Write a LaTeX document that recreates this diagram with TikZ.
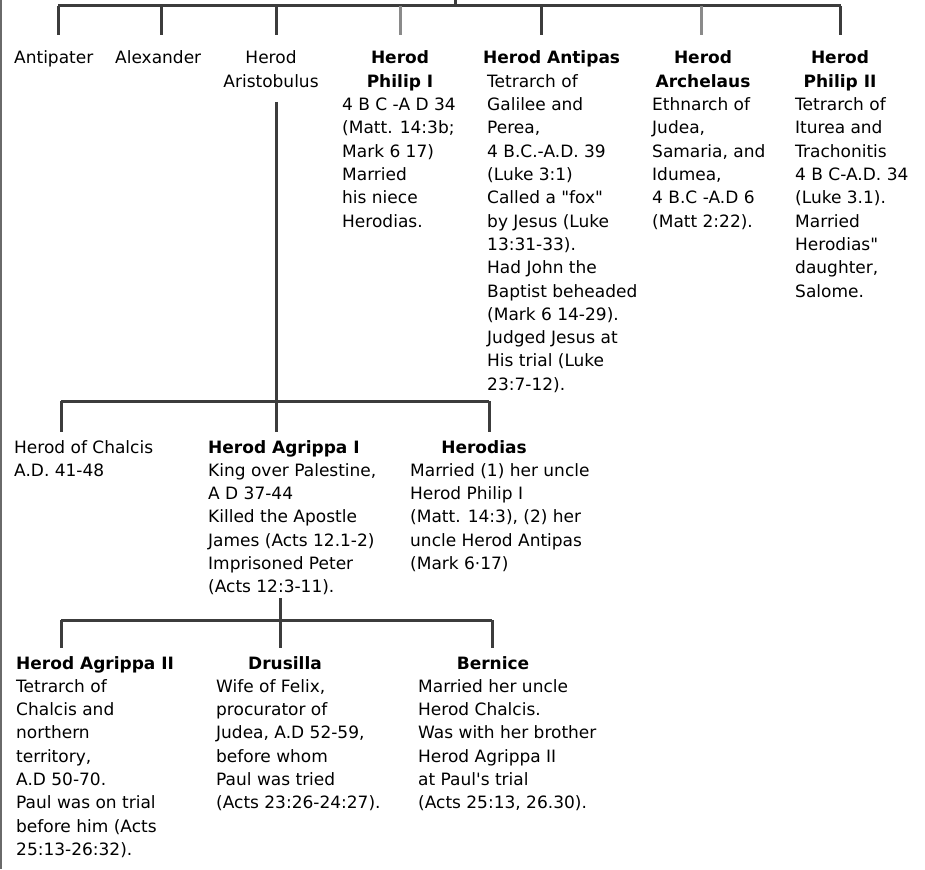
\documentclass[tikz,border=0pt]{standalone}
\usepackage{fontspec}
\setmainfont{DejaVu Sans}[Ligatures=TeXOff]
\definecolor{linegray}{HTML}{3C3C3C}
\definecolor{lightline}{HTML}{8A8A8A}
\definecolor{bordergray}{HTML}{6A6A6A}
\tikzset{
  tree/.style={line width=3pt, draw=linegray},
  treelight/.style={line width=3pt, draw=lightline},
  border/.style={line width=1.5pt, draw=bordergray},
  body/.style={inner sep=0pt, align=left, anchor=base west, font=\fontsize{17}{23.3}\selectfont},
  ttl/.style={inner sep=0pt, align=center, anchor=base, font=\bfseries\fontsize{17}{23.3}\selectfont},
  ttlw/.style={inner sep=0pt, align=left, anchor=base west, font=\bfseries\fontsize{17}{23.3}\selectfont},
  plainc/.style={inner sep=0pt, align=center, anchor=base, font=\fontsize{17}{23.3}\selectfont},
}
% anchors are on the baseline of the LAST line of each node
\begin{document}
\begin{tikzpicture}[x=1pt,y=-1pt]
\useasboundingbox (0,0) rectangle (925,869);
% left border
\coordinate (bordertop) at (1,0);
\coordinate (borderbot) at (1,869);
\draw[border] (bordertop) -- (borderbot);

% ---------- generation 1 ----------
\coordinate (topin) at (455,0);
\coordinate (topjoin) at (455,6);
\coordinate (barL) at (58,6);
\coordinate (barR) at (841,6);
\draw[tree] (topin) -- (topjoin);
\draw[tree] (barL) -- (barR);
\foreach \n/\x in {a/58,b/161,c/276,e/541,g/840}{
  \coordinate (t\n) at (\x,6); \coordinate (d\n) at (\x,35);
  \draw[tree] (t\n) -- (d\n);
}
\foreach \n/\x in {d/400,f/701}{
  \coordinate (t\n) at (\x,6); \coordinate (d\n) at (\x,35);
  \draw[treelight] (t\n) -- (d\n);
}

\node[body] (antipater) at (14,64) {Antipater};
\node[body] (alexander) at (115,64) {Alexander};
\node[plainc] (aristobulus) at (271,87.3) {Herod\\Aristobulus};

\node[ttl] (philipI) at (400,87.3) {Herod\\Philip I};
\node[body] (philipIb) at (342,227.1) {4 B C -A D 34\\(Matt. 14:3b;\\Mark 6 17)\\Married\\his niece\\Herodias.};

\node[ttlw] (antipas) at (483,64) {Herod Antipas};
\node[body] (antipasb) at (487,390.2) {Tetrarch of\\Galilee and\\Perea,\\4 B.C.-A.D. 39\\(Luke 3:1)\\Called a "fox"\\by Jesus (Luke\\13:31-33).\\Had John the\\Baptist beheaded\\(Mark 6 14-29).\\Judged Jesus at\\His trial (Luke\\23:7-12).};

\node[ttl] (archelaus) at (703,87.3) {Herod\\Archelaus};
\node[body] (archelausb) at (652,227.1) {Ethnarch of\\Judea,\\Samaria, and\\Idumea,\\4 B.C -A.D 6\\(Matt 2:22).};

\node[ttl] (philipII) at (840,87.3) {Herod\\Philip II};
\node[body] (philipIIb) at (795,297) {Tetrarch of\\Iturea and\\Trachonitis\\4 B C-A.D. 34\\(Luke 3.1).\\Married\\Herodias"\\daughter,\\Salome.};

% ---------- generation 2 ----------
\coordinate (aristTop) at (276,102);
\coordinate (gen2join) at (276,401);
\draw[tree] (aristTop) -- (gen2join);
\coordinate (bar2L) at (61,401);
\coordinate (bar2R) at (489,401);
\draw[tree] (bar2L) -- (bar2R);
\foreach \n/\x in {a/61,b/276,c/489}{
  \coordinate (u\n) at (\x,401); \coordinate (v\n) at (\x,432);
  \draw[tree] (u\n) -- (v\n);
}

\node[body] (chalcis) at (14,476.3) {Herod of Chalcis\\A.D. 41-48};
\node[ttlw] (agrippaI) at (208,453) {Herod Agrippa I};
\node[body] (agrippaIb) at (208,592.8) {King over Palestine,\\A D 37-44\\Killed the Apostle\\James (Acts 12.1-2)\\Imprisoned Peter\\(Acts 12:3-11).};
\node[ttl] (herodias) at (484,453) {Herodias};
\node[body] (herodiasb) at (410,569.5) {Married (1) her uncle\\Herod Philip I\\(Matt. 14:3), (2) her\\uncle Herod Antipas\\(Mark 6·17)};

% ---------- generation 3 ----------
\coordinate (agrTop) at (280,598);
\coordinate (gen3join) at (280,620);
\draw[tree] (agrTop) -- (gen3join);
\coordinate (bar3L) at (61,620);
\coordinate (bar3R) at (492,620);
\draw[tree] (bar3L) -- (bar3R);
\foreach \n/\x in {a/61,b/280,c/492}{
  \coordinate (p\n) at (\x,620); \coordinate (q\n) at (\x,648);
  \draw[tree] (p\n) -- (q\n);
}

\node[ttlw] (agrippaII) at (16,669) {Herod Agrippa II};
\node[body] (agrippaIIb) at (16,855.4) {Tetrarch of\\Chalcis and\\northern\\territory,\\A.D 50-70.\\Paul was on trial\\before him (Acts\\25:13-26:32).};
\node[ttl] (drusilla) at (285,669) {Drusilla};
\node[body] (drusillab) at (216,808.8) {Wife of Felix,\\procurator of\\Judea, A.D 52-59,\\before whom\\Paul was tried\\(Acts 23:26-24:27).};
\node[ttl] (bernice) at (493,669) {Bernice};
\node[body] (berniceb) at (418,808.8) {Married her uncle\\Herod Chalcis.\\Was with her brother\\Herod Agrippa II\\at Paul's trial\\(Acts 25:13, 26.30).};
\end{tikzpicture}
\end{document}
